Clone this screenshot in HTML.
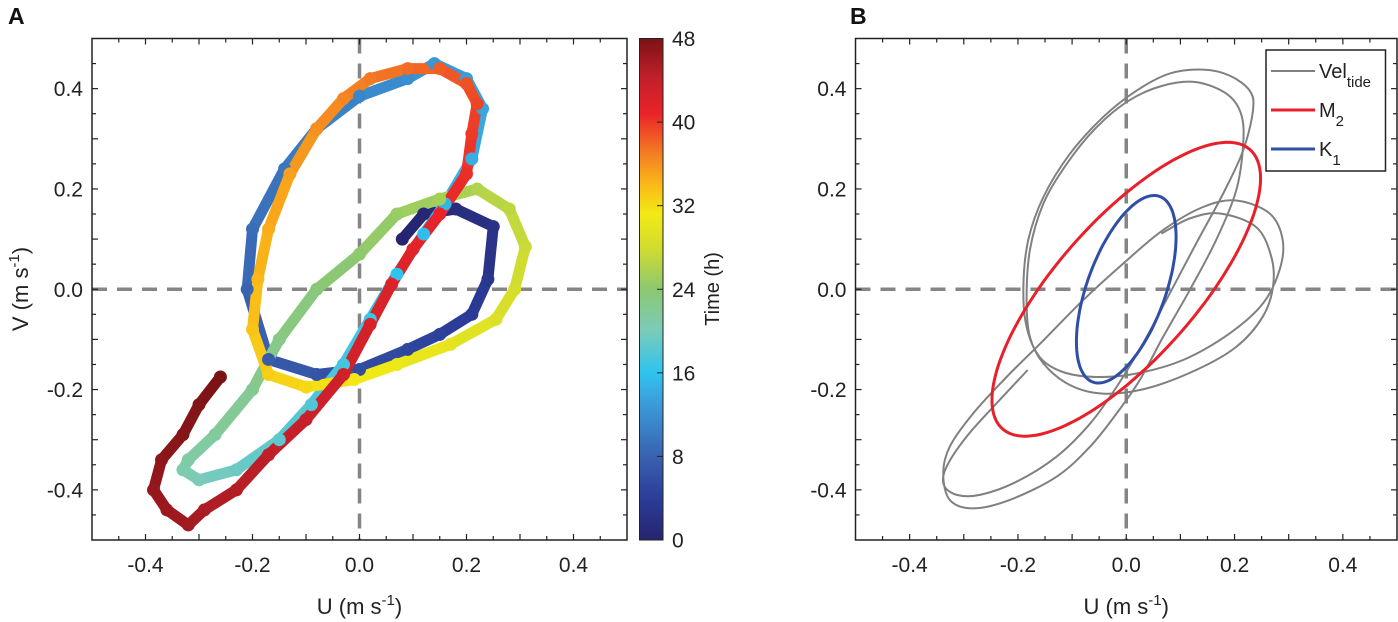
<!DOCTYPE html>
<html><head><meta charset="utf-8">
<style>
html,body{margin:0;padding:0;background:#fff;}
svg{display:block;font-family:"Liberation Sans",Arial,sans-serif;}
</style></head>
<body>
<svg id="fig" width="1398" height="622" viewBox="0 0 1398 622" xmlns="http://www.w3.org/2000/svg">
<defs>
<linearGradient id="cbgrad" x1="0" y1="1" x2="0" y2="0">
<stop offset="0" stop-color="#26246e"/>
<stop offset="0.083" stop-color="#2b3d98"/>
<stop offset="0.167" stop-color="#3a62b0"/>
<stop offset="0.29" stop-color="#3aa6e0"/>
<stop offset="0.333" stop-color="#2ec4ef"/>
<stop offset="0.42" stop-color="#7ccbb8"/>
<stop offset="0.5" stop-color="#8cc870"/>
<stop offset="0.58" stop-color="#cfdc30"/>
<stop offset="0.65" stop-color="#f3ea14"/>
<stop offset="0.71" stop-color="#fbb818"/>
<stop offset="0.77" stop-color="#f47e23"/>
<stop offset="0.85" stop-color="#ea2329"/>
<stop offset="0.92" stop-color="#c3202a"/>
<stop offset="1" stop-color="#7b1315"/>
</linearGradient>
</defs>
<text x="8" y="24" font-size="23" font-weight="bold" fill="#111">A</text>
<text x="850" y="24" font-size="23" font-weight="bold" fill="#111">B</text>
<g id="pa"></g>
<g id="pb"></g>
</svg>
<script>
// ---------- Panel A data (U, V in m/s, time in h) ----------
const timesA = [0,0.7,1.4,2.2,3,3.7,4.4,5,5.8,6.5,7.3,8.2,9,9.8,10.5,11.2,12,12.6,13.2,13.8,14.4,15,15.5,16,16.6,17.2,17.8,18.4,19.2,20,20.6,21,21.5,22.2,22.8,23.5,24.2,24.8,25.5,26.2,27,27.7,28.4,29,29.8,30.5,31.2,32,32.7,33.3,34,34.6,35.3,36,36.6,37.2,37.8,38.4,39,39.5,40,40.5,41,41.5,42,42.5,43,43.6,44.2,44.8,45.3,45.8,46.2,46.6,47,47.4,47.7,48];
const uA = [0.08,0.12,0.18,0.25,0.24,0.21,0.15,0.09,0.0,-0.08,-0.17,-0.21,-0.2,-0.14,-0.08,0.0,0.09,0.14,0.2,0.23,0.21,0.16,0.12,0.07,0.02,-0.03,-0.09,-0.15,-0.23,-0.3,-0.33,-0.32,-0.27,-0.2,-0.15,-0.08,0.0,0.07,0.15,0.22,0.28,0.31,0.29,0.255,0.17,0.07,-0.01,-0.1,-0.17,-0.2,-0.19,-0.17,-0.13,-0.08,-0.03,0.02,0.09,0.15,0.2,0.22,0.21,0.2,0.15,0.1,0.06,0.02,-0.03,-0.1,-0.17,-0.23,-0.29,-0.32,-0.36,-0.385,-0.37,-0.33,-0.3,-0.26];
const vA = [0.10,0.15,0.16,0.125,0.02,-0.05,-0.09,-0.12,-0.16,-0.17,-0.14,0.0,0.12,0.24,0.32,0.385,0.42,0.45,0.42,0.36,0.26,0.17,0.11,0.03,-0.06,-0.15,-0.23,-0.30,-0.36,-0.38,-0.36,-0.34,-0.29,-0.2,-0.1,0.0,0.07,0.15,0.18,0.2,0.16,0.085,0.0,-0.06,-0.11,-0.15,-0.18,-0.195,-0.17,-0.08,0.02,0.12,0.23,0.32,0.38,0.42,0.44,0.44,0.41,0.37,0.31,0.23,0.15,0.08,0.01,-0.07,-0.17,-0.26,-0.33,-0.4,-0.44,-0.47,-0.44,-0.4,-0.34,-0.29,-0.23,-0.175];
const axisTicks = [-0.4,-0.2,0.0,0.2,0.4];
const axisTickLabels = ["-0.4","-0.2","0.0","0.2","0.4"];
const cbTicks = [0,8,16,24,32,40,48];

// ---------- Panel B data ----------
const m2Amp = [0.248, 0.293];
const m2Phase = [0, 41];
const k1Amp = [0.092, 0.187];
const k1Phase = [0, 56];
const velTideU = [-0.182,-0.240,-0.295,-0.332,-0.337,-0.313,-0.270,-0.203,-0.129,-0.067,-0.018,0.031,0.080,0.129,0.179,0.216,0.234,0.228,0.191,0.142,0.080,0.019,-0.043,-0.104,-0.153,-0.181,-0.190,-0.184,-0.160,-0.117,-0.055,0.019,0.105,0.191,0.252,0.283,0.289,0.265,0.203,0.142,0.068,-0.006,-0.080,-0.153,-0.221,-0.283,-0.326,-0.338,-0.326,-0.283,-0.215,-0.129,-0.067,-0.018,0.025,0.068,0.117,0.166,0.203,0.216,0.212,0.185,0.129,0.068,0.006,-0.055,-0.110,-0.153,-0.178,-0.184,-0.178,-0.153,-0.104,-0.043,0.037,0.129,0.203,0.252,0.271,0.268,0.240,0.173,0.117,0.065];
const velTideV = [-0.161,-0.228,-0.294,-0.354,-0.390,-0.410,-0.410,-0.384,-0.334,-0.268,-0.195,-0.108,-0.009,0.091,0.191,0.277,0.357,0.396,0.426,0.438,0.430,0.396,0.343,0.270,0.184,0.098,0.005,-0.075,-0.135,-0.165,-0.175,-0.168,-0.141,-0.088,-0.029,0.038,0.098,0.151,0.177,0.164,0.118,0.051,-0.022,-0.102,-0.175,-0.248,-0.314,-0.367,-0.420,-0.437,-0.420,-0.374,-0.314,-0.248,-0.181,-0.095,-0.002,0.098,0.197,0.290,0.350,0.390,0.413,0.406,0.377,0.323,0.250,0.171,0.078,-0.022,-0.095,-0.148,-0.191,-0.208,-0.198,-0.161,-0.115,-0.055,0.005,0.064,0.124,0.151,0.141,0.111];

const NS = "http://www.w3.org/2000/svg";
function mk(tag, attrs, parent){const e=document.createElementNS(NS,tag);for(const k in attrs)e.setAttribute(k,attrs[k]);parent.appendChild(e);return e;}

const yTop=38.5, yBot=540;
function yS(v){return 289.25-(v)*(yBot-yTop);}
const axA={l:92,r:627}; const axB={l:855.5,r:1397};
function xA(u){return (axA.l+axA.r)/2+u*(axA.r-axA.l);}
function xB(u){return (axB.l+axB.r)/2+u*(axB.r-axB.l);}

function drawAxes(g, xs, ax, prefix){
  let h=mk('line',{x1:ax.l,x2:ax.r,y1:yS(0),y2:yS(0),stroke:'#858585','stroke-width':3.5,'stroke-dasharray':'15 10'},g);
  
  
  let vl=mk('line',{x1:xs(0),x2:xs(0),y1:yTop,y2:yBot,stroke:'#858585','stroke-width':3.5,'stroke-dasharray':'15 10'},g);
  
  
}
function drawFrame(g, xs, ax, prefix){
  const fr=mk('rect',{x:ax.l,y:yTop,width:ax.r-ax.l,height:yBot-yTop,fill:'none',stroke:'#222','stroke-width':1.5},g);
  
  
  for(let i=-10;i<=10;i++){
    const t=i*0.05; const len=(i%2===0)?6:4;
    if(Math.abs(t)<0.5){
      const x=xs(t);
      mk('line',{x1:x,x2:x,y1:yBot,y2:yBot-len,stroke:'#222','stroke-width':1.2},g);
      mk('line',{x1:x,x2:x,y1:yTop,y2:yTop+len,stroke:'#222','stroke-width':1.2},g);
      const y=yS(t);
      mk('line',{x1:ax.l,x2:ax.l+len,y1:y,y2:y,stroke:'#222','stroke-width':1.2},g);
      mk('line',{x1:ax.r,x2:ax.r-len,y1:y,y2:y,stroke:'#222','stroke-width':1.2},g);
    }
  }
  axisTicks.forEach((t,i)=>{
    const tx=mk('text',{x:xs(t),y:572,'font-size':21,'text-anchor':'middle',fill:'#222'},g);
    tx.textContent=axisTickLabels[i];
    
    
    const ty=mk('text',{x:ax.l-9,y:yS(t)+7.5,'font-size':21,'text-anchor':'end',fill:'#222'},g);
    ty.textContent=axisTickLabels[i];
    
    
  });
  const xl=mk('text',{x:xs(0),y:614,'font-size':22,'text-anchor':'middle',fill:'#222'},g);
  xl.innerHTML='U (m s<tspan dy="-9" font-size="15">-1</tspan><tspan dy="9">)</tspan>';
  
  
}

const cmStops=[[0,[38,36,110]],[4,[43,61,152]],[8,[58,98,176]],[14,[58,166,224]],[16,[46,196,239]],[20,[124,203,184]],[24,[140,200,112]],[28,[207,220,48]],[31,[243,234,20]],[34,[251,184,24]],[37,[244,126,35]],[41,[234,35,41]],[44,[195,32,42]],[48,[123,19,21]]];
function cmap(t){
  for(let i=0;i<cmStops.length-1;i++){
    const a=cmStops[i],b=cmStops[i+1];
    if(t<=b[0]){const f=(t-a[0])/(b[0]-a[0]);const c=a[1].map((v,k)=>Math.round(v+(b[1][k]-v)*f));return 'rgb('+c.join(',')+')';}
  }
  return 'rgb(123,19,21)';
}

// ---------- Panel A ----------
const pa=document.getElementById('pa');
drawAxes(pa,xA,axA,'panel-a');
for(let i=0;i<uA.length-1;i++){
  const s=mk('line',{x1:xA(uA[i]),y1:yS(vA[i]),x2:xA(uA[i+1]),y2:yS(vA[i+1]),stroke:cmap((timesA[i]+timesA[i+1])/2),'stroke-width':11,'stroke-linecap':'round'},pa);
  
  
}
for(let i=0;i<uA.length;i++){
  const c=mk('circle',{cx:xA(uA[i]),cy:yS(vA[i]),r:6.5,fill:cmap(timesA[i])},pa);
  
  
}
drawFrame(pa,xA,axA,'panel-a');
const yl=mk('text',{x:0,y:0,'font-size':22,'text-anchor':'middle',fill:'#222',transform:'translate(28,289) rotate(-90)'},pa);
yl.innerHTML='V (m s<tspan dy="-9" font-size="15">-1</tspan><tspan dy="9">)</tspan>';


const cb=mk('rect',{x:639.5,y:yTop,width:23.5,height:yBot-yTop,fill:'url(#cbgrad)',stroke:'#222','stroke-width':1},pa);


cbTicks.forEach(t=>{
  const y=yBot-(t/48)*(yBot-yTop);
  mk('line',{x1:657,x2:663,y1:y,y2:y,stroke:'#222','stroke-width':1},pa);
  const tl=mk('text',{x:672,y:y+7.5,'font-size':21,fill:'#222'},pa);
  tl.textContent=String(t);
  
  
});
const cbl=mk('text',{x:0,y:0,'font-size':20,'text-anchor':'middle',fill:'#222',transform:'translate(719,289) rotate(-90)'},pa);
cbl.textContent='Time (h)';



// ---------- Panel B ----------
const pb=document.getElementById('pb');
drawAxes(pb,xB,axB,'panel-b');
function smoothPath(pts){
  let d='M'+pts[0][0].toFixed(1)+' '+pts[0][1].toFixed(1);
  for(let i=0;i<pts.length-1;i++){
    const p0=pts[Math.max(0,i-1)],p1=pts[i],p2=pts[i+1],p3=pts[Math.min(pts.length-1,i+2)];
    const c1=[p1[0]+(p2[0]-p0[0])/6,p1[1]+(p2[1]-p0[1])/6];
    const c2=[p2[0]-(p3[0]-p1[0])/6,p2[1]-(p3[1]-p1[1])/6];
    d+=' C'+c1[0].toFixed(1)+' '+c1[1].toFixed(1)+' '+c2[0].toFixed(1)+' '+c2[1].toFixed(1)+' '+p2[0].toFixed(1)+' '+p2[1].toFixed(1);
  }
  return d;
}
const velPts=velTideU.map((u,i)=>[xB(u),yS(velTideV[i])]);
const gp=mk('path',{d:smoothPath(velPts),fill:'none',stroke:'#808080','stroke-width':2},pb);


function ellipsePath(amp,ph){
  const pts=[];
  for(let k=0;k<=120;k++){
    const a=k/120*2*Math.PI;
    pts.push([xB(amp[0]*Math.cos(a-ph[0]*Math.PI/180)), yS(amp[1]*Math.cos(a-ph[1]*Math.PI/180))]);
  }
  return 'M'+pts.map(p=>p[0].toFixed(1)+' '+p[1].toFixed(1)).join(' L')+'Z';
}
const m2=mk('path',{d:ellipsePath(m2Amp,m2Phase),fill:'none',stroke:'#e8202a','stroke-width':3},pb);


const k1=mk('path',{d:ellipsePath(k1Amp,k1Phase),fill:'none',stroke:'#2f4fa6','stroke-width':3},pb);


drawFrame(pb,xB,axB,'panel-b');
const lg=mk('g',{},pb);


mk('rect',{x:1266,y:50,width:119.5,height:121,fill:'#fff',stroke:'#222','stroke-width':1.5},lg);
const legItems=[['#808080',2,'Vel','tide',71],['#e8202a',3,'M','2',110],['#2f4fa6',3,'K','1',149]];
legItems.forEach(it=>{
  const ln=mk('line',{x1:1271,x2:1315,y1:it[4],y2:it[4],stroke:it[0],'stroke-width':it[1]},lg);
  
  
  const t=mk('text',{x:1319,y:it[4]+7,'font-size':20,fill:'#222'},lg);
  t.innerHTML=it[2]+'<tspan dy="9" font-size="15">'+it[3]+'</tspan>';
  
  
});
</script>
</body></html>
